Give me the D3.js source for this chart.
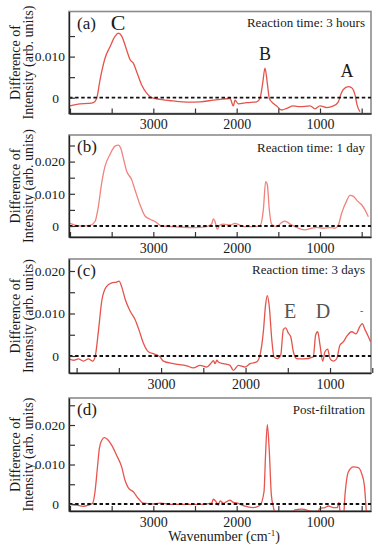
<!DOCTYPE html>
<html>
<head>
<meta charset="utf-8">
<script src="https://cdn.jsdelivr.net/npm/d3@7"></script>
<style>
  body { margin: 0; background: #fff; }
  text { font-family: "Liberation Serif", "Times New Roman", serif; fill: #1a1a1a; }
</style>
</head>
<body>
<div id="chart"></div>
<script>
// spectra: wavenumber (cm-1) and difference of intensity

// (a) reaction time 3 hours
let wnA = [4000,3880,3780,3720,3680,3640,3580,3520,3460,3420,3380,3320,3280,3240,3200,3140,3080,3020,2920,2760,2600,2440,2280,2200,2080,2040,2020,1980,1880,1760,1720,1688,1660,1632,1608,1580,1520,1460,1400,1320,1240,1120,1060,1000,920,840,780,752,720,660,620,580,552,520]
let valA = [-0.0020,-0.0015,-0.0014,-0.0012,-0.0002,0.0043,0.0096,0.0124,0.0149,0.0157,0.0150,0.0116,0.0093,0.0084,0.0063,0.0031,0.0011,0.0000,-0.0004,-0.0008,-0.0011,-0.0010,-0.0006,-0.0004,-0.0002,-0.0020,-0.0006,-0.0015,-0.0012,-0.0010,-0.0002,0.0035,0.0072,0.0035,-0.0002,-0.0010,-0.0020,-0.0030,-0.0026,-0.0020,-0.0022,-0.0020,-0.0027,-0.0020,-0.0024,-0.0020,-0.0010,0.0007,0.0020,0.0027,0.0024,0.0007,-0.0020,-0.0034]

// (b) reaction time 1 day
let wnB = [4000,3940,3860,3760,3700,3660,3620,3580,3520,3460,3420,3392,3360,3320,3260,3220,3160,3100,3040,2980,2900,2760,2520,2360,2300,2280,2260,2232,2200,2160,2080,2020,1980,1920,1800,1720,1680,1652,1632,1608,1580,1520,1460,1420,1360,1300,1240,1180,1100,1040,960,880,820,780,740,680,640,600,552,500,460,420]
let valB = [0.0008,0.0003,0.0000,0.0002,0.0014,0.0060,0.0133,0.0185,0.0222,0.0248,0.0251,0.0242,0.0211,0.0170,0.0144,0.0112,0.0066,0.0031,0.0021,0.0014,0.0000,-0.0002,-0.0005,-0.0002,0.0006,0.0022,0.0014,-0.0010,0.0003,0.0006,0.0003,0.0008,0.0005,-0.0002,-0.0002,0.0001,0.0050,0.0138,0.0128,0.0050,0.0005,-0.0002,0.0011,0.0015,0.0006,-0.0002,-0.0009,-0.0012,-0.0007,-0.0004,-0.0007,-0.0005,-0.0007,0.0003,0.0040,0.0078,0.0095,0.0092,0.0078,0.0066,0.0050,0.0029]

// (c) reaction time 3 days
let wnC = [4096,4037,3978,3919,3860,3809,3781,3742,3702,3651,3584,3525,3497,3465,3426,3367,3308,3256,3209,3150,3071,3012,2973,2854,2696,2618,2539,2460,2401,2380,2361,2340,2322,2263,2184,2144,2085,2006,1947,1868,1829,1789,1762,1742,1718,1691,1663,1624,1584,1553,1525,1494,1466,1434,1395,1316,1198,1170,1146,1119,1087,1060,1028,1000,961,922,882,843,803,744,693,645,618,586,547,519]
let valC = [-0.0006,-0.0010,-0.0007,-0.0012,-0.0007,-0.0012,-0.0002,0.0058,0.0130,0.0162,0.0172,0.0174,0.0176,0.0162,0.0134,0.0106,0.0086,0.0058,0.0030,0.0010,0.0004,-0.0002,-0.0012,-0.0018,-0.0023,-0.0028,-0.0022,-0.0026,-0.0015,-0.0011,-0.0018,-0.0010,-0.0014,-0.0018,-0.0022,-0.0034,-0.0022,-0.0026,-0.0018,-0.0014,0.0002,0.0058,0.0122,0.0142,0.0114,0.0042,-0.0002,-0.0006,0.0002,0.0062,0.0066,0.0054,0.0046,0.0010,-0.0006,-0.0007,-0.0002,0.0050,0.0057,0.0026,-0.0012,0.0010,0.0016,-0.0006,-0.0012,-0.0007,0.0026,0.0033,0.0046,0.0057,0.0052,0.0070,0.0076,0.0062,0.0046,0.0033]

// (d) post-filtration
let wnD = [4008,3920,3840,3780,3728,3700,3672,3648,3620,3588,3552,3500,3440,3380,3340,3300,3240,3180,3120,3000,2920,2760,2440,2300,2280,2248,2220,2200,2160,2120,2080,2040,2000,1920,1800,1720,1672,1652,1632,1608,1584,1560,1528,1480,1400,1340,1300,1220,1120,1040,1000,940,900,840,792,772,752,720,700,660,600,540,500,468,440]
let valD = [-0.0001,-0.0003,-0.0006,-0.0003,0.0002,0.0031,0.0090,0.0140,0.0161,0.0168,0.0164,0.0149,0.0123,0.0094,0.0060,0.0041,0.0031,0.0014,0.0002,0.0000,0.0002,-0.0001,-0.0001,0.0002,0.0012,0.0006,-0.0003,0.0008,0.0002,0.0006,0.0010,0.0004,0.0003,-0.0004,-0.0009,-0.0003,0.0031,0.0132,0.0201,0.0132,0.0023,-0.0007,-0.0030,-0.0045,-0.0045,-0.0025,-0.0015,-0.0013,-0.0018,-0.0024,-0.0011,-0.0009,-0.0005,-0.0009,-0.0009,0.0004,-0.0035,-0.0035,0.0023,0.0081,0.0094,0.0092,0.0077,0.0048,-0.0035]

// ticks
let xTicks = [4000,3500,3000,2500,2000,1500,1000,500]
let xTickLabels = [3000,2000,1000]
let yTicksA = [0,0.005,0.010,0.015]
let yTicksB = [0,0.005,0.010,0.015,0.020,0.025]
let yTicksC = [0,0.005,0.010,0.015,0.020]
let yTicksD = [0,0.005,0.010,0.015,0.020,0.025]
let yTickLabels = [0,0.010,0.020]

let panelLetters = ["(a)","(b)","(c)","(d)"]
let panelNotes = ["Reaction time: 3 hours","Reaction time: 1 day","Reaction time: 3 days","Post-filtration"]

// band letters: [panel, letter, wavenumber, value at baseline]
let bandLabels = [
  [0,"C",3424,0.0165],
  [0,"B",1660,0.0092],
  [0,"A",676,0.0051],
  [2,"E",1474,0.0089],
  [2,"D",1084,0.0089],
  [2,"-",626,0.0098]
]

let W = 378, H = 550
let left = 69, right = 371

let svg = d3.select("#chart")
  .append("svg")
  .attr("width", W)
  .attr("height", H)

let panels = [
  {wn: wnA, val: valA, xDom: [4012,388], top: 11.5, bottom: 113.5, yDom: [-0.00385,0.02098], yTicks: yTicksA, color: "#e4544c", noteDy: 15},
  {wn: wnB, val: valB, xDom: [4012,388], top: 135, bottom: 237, yDom: [-0.00342,0.02826], yTicks: yTicksB, color: "#f0837c", noteDy: 17},
  {wn: wnC, val: valC, xDom: [4090,515], top: 259, bottom: 373, yDom: [-0.0040,0.02282], yTicks: yTicksC, color: "#e4544c", noteDy: 15},
  {wn: wnD, val: valD, xDom: [4012,388], top: 398, bottom: 511, yDom: [-0.00177,0.02684], yTicks: yTicksD, color: "#e8554f", noteDy: 16}
]

panels.forEach(function(p, i){
  let x = d3.scaleLinear().domain(p.xDom).range([left, right])
  let y = d3.scaleLinear().domain(p.yDom).range([p.bottom, p.top])
  let g = svg.append("g").attr("class", "panel")

  // frame
  g.append("rect")
    .attr("x", left).attr("y", p.top)
    .attr("width", right - left).attr("height", p.bottom - p.top)
    .attr("fill", "none")
    .attr("stroke", "#8c8c8c")
    .attr("stroke-width", 1.6)

  g.append("clipPath").attr("id", "clip" + i)
    .append("rect")
    .attr("x", left).attr("y", p.top)
    .attr("width", right - left).attr("height", p.bottom - p.top)

  // spectrum
  let data = p.wn.map((w, k) => [w, p.val[k]])
  let line = d3.line()
    .x(d => x(d[0]))
    .y(d => y(d[1]))
    .curve(d3.curveMonotoneX)

  g.append("path")
    .datum(data)
    .attr("clip-path", "url(#clip" + i + ")")
    .attr("fill", "none")
    .attr("stroke", p.color)
    .attr("stroke-width", 1.3)
    .attr("d", line)

  // zero line
  g.append("line")
    .attr("x1", left).attr("x2", right)
    .attr("y1", y(0)).attr("y2", y(0))
    .attr("stroke", "#111")
    .attr("stroke-width", 1.8)
    .attr("stroke-dasharray", "3.5,2.6")

  // x axis
  let xAxis = d3.axisBottom(x)
    .tickValues(xTicks)
    .tickSizeInner(-5)
    .tickSizeOuter(0)
    .tickPadding(6)
    .tickFormat(d => xTickLabels.includes(d) ? d : "")
  let xg = g.append("g")
    .attr("transform", `translate(0, ${p.bottom})`)
    .call(xAxis)
  xg.select(".domain").attr("stroke", "#222").attr("stroke-width", 1.4)
  xg.selectAll(".tick line").attr("stroke", "#333").attr("stroke-width", 1.2)
  xg.selectAll("text").attr("font-size", "14px").attr("fill", "#1a1a1a")
    .style("font-family", "'Liberation Serif', serif")

  // y axis
  let fmt = d3.format(".3f")
  let yAxis = d3.axisLeft(y)
    .tickValues(p.yTicks)
    .tickSizeInner(-6)
    .tickSizeOuter(0)
    .tickPadding(4)
    .tickFormat(d => d === 0 ? "0" : (yTickLabels.includes(d) ? fmt(d) : ""))
  let yg = g.append("g")
    .attr("transform", `translate(${left}, 0)`)
    .call(yAxis)
  yg.select(".domain").attr("stroke", "#222").attr("stroke-width", 1.4)
  yg.selectAll(".tick line").attr("stroke", "#333").attr("stroke-width", 1.2)
  yg.selectAll("text").attr("font-size", "13.5px").attr("fill", "#1a1a1a")
    .style("font-family", "'Liberation Serif', serif")
  yg.selectAll(".tick").filter(d => d === 0).select("text").attr("x", -10)

  // y label, two lines
  let cy = (p.top + p.bottom) / 2
  g.append("text")
    .attr("transform", `translate(20, ${cy}) rotate(-90)`)
    .attr("text-anchor", "middle")
    .attr("font-size", "14px")
    .text("Difference of")
  g.append("text")
    .attr("transform", `translate(33, ${cy}) rotate(-90)`)
    .attr("text-anchor", "middle")
    .attr("font-size", "14px")
    .text("Intensity (arb. units)")

  // panel letter and note
  g.append("text")
    .attr("x", 77).attr("y", p.top + 17)
    .attr("font-size", "17px")
    .text(panelLetters[i])
  g.append("text")
    .attr("x", 365).attr("y", p.top + p.noteDy)
    .attr("text-anchor", "end")
    .attr("font-size", "13px")
    .text(panelNotes[i])

  // band letters
  bandLabels.filter(b => b[0] === i).forEach(function(b){
    let size = b[1] === "C" ? "22px" : (b[1] === "-" ? "10px" : (i === 2 ? "20px" : "18px"))
    g.append("text")
      .attr("x", x(b[2])).attr("y", y(b[3]))
      .attr("text-anchor", "middle")
      .attr("font-size", size)
      .style("fill", i === 2 ? "#555" : "#1a1a1a")
      .text(b[1])
  })
})

// x axis title
let xt = svg.append("text")
  .attr("x", 224).attr("y", 541)
  .attr("text-anchor", "middle")
  .attr("font-size", "14px")
xt.append("tspan").text("Wavenumber (cm")
xt.append("tspan").attr("dy", -5).attr("font-size", "9px").text("-1")
xt.append("tspan").attr("dy", 5).text(")")
</script>
</body>
</html>
